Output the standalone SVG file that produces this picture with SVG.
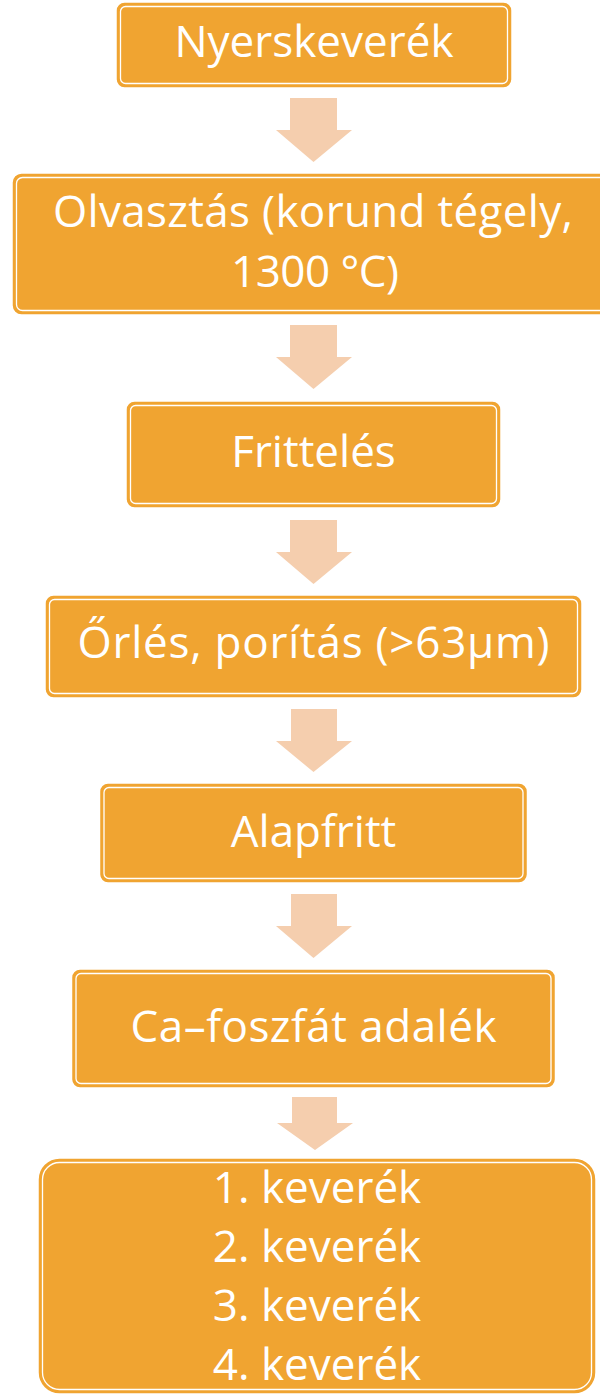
<svg xmlns="http://www.w3.org/2000/svg" width="600" height="1394" viewBox="0 0 600 1394">
<style>
.box{fill:#F0A431;stroke:#F0A431;stroke-width:1.5}
.in{fill:none;stroke:#FFFFFF;stroke-width:1.3}
.t{font-family:"Open Sans","DejaVu Sans",sans-serif;font-size:44px;fill:#FFFFFF;text-anchor:middle}
.ar{fill:#F5CEAE}
</style>
<rect width="600" height="1394" fill="#FFFFFF"/>
<g id="connectors">
<path class="ar" d="M290,98 H337 V130 H352 L313.5,162 L276,130 H290 Z"/>
<path class="ar" d="M290,325 H337 V357 H352 L313.5,389 L276,357 H290 Z"/>
<path class="ar" d="M290,520 H337 V552 H352 L313.5,584 L276,552 H290 Z"/>
<path class="ar" d="M291,709 H337 V741 H352 L313.5,772 L276,741 H291 Z"/>
<path class="ar" d="M291,894 H337 V926 H352 L313.5,958 L276,926 H291 Z"/>
<path class="ar" d="M292,1097 H337 V1123 H353 L315,1150 L277,1123 H292 Z"/>
</g>
<g id="n1">
<rect class="box" x="117.5" y="3.5" width="393" height="83" rx="7"/>
<rect class="in" x="120.5" y="6.5" width="387" height="77" rx="5"/>
<text class="t" x="314" y="57">Nyerskeverék</text>
</g>
<g id="n2">
<rect class="box" x="13.5" y="174.5" width="600" height="139" rx="8"/>
<rect class="in" x="16.5" y="177.5" width="594" height="133" rx="6"/>
<text class="t" x="313" y="227" textLength="520" lengthAdjust="spacing">Olvasztás (korund tégely,</text>
<text class="t" x="315" y="287" textLength="168" lengthAdjust="spacing">1300 °C)</text>
</g>
<g id="n3">
<rect class="box" x="127.5" y="402.5" width="372" height="104" rx="7"/>
<rect class="in" x="130.5" y="405.5" width="366" height="98" rx="5"/>
<text class="t" x="313.5" y="467">Frittelés</text>
</g>
<g id="n4">
<rect class="box" x="46.5" y="596.5" width="534" height="100" rx="7"/>
<rect class="in" x="49.5" y="599.5" width="528" height="94" rx="5"/>
<text class="t" x="313.5" y="658" textLength="472" lengthAdjust="spacing">Őrlés, porítás (&gt;63μm)</text>
</g>
<g id="n5">
<rect class="box" x="101" y="784.5" width="425" height="97" rx="7"/>
<rect class="in" x="104" y="787.5" width="419" height="91" rx="5"/>
<text class="t" x="313.5" y="847">Alapfritt</text>
</g>
<g id="n6">
<rect class="box" x="73" y="970.5" width="481" height="116" rx="7"/>
<rect class="in" x="76" y="973.5" width="475" height="110" rx="5"/>
<text class="t" x="313.5" y="1042" textLength="366" lengthAdjust="spacing">Ca–foszfát adalék</text>
</g>
<g id="n7">
<rect class="box" x="39.5" y="1159.5" width="555" height="233" rx="20"/>
<rect class="in" x="42.5" y="1162.5" width="549" height="227" rx="17"/>
<text class="t" x="317" y="1203">1. keverék</text>
<text class="t" x="317" y="1262">2. keverék</text>
<text class="t" x="317" y="1321">3. keverék</text>
<text class="t" x="317" y="1380">4. keverék</text>
</g>
</svg>
